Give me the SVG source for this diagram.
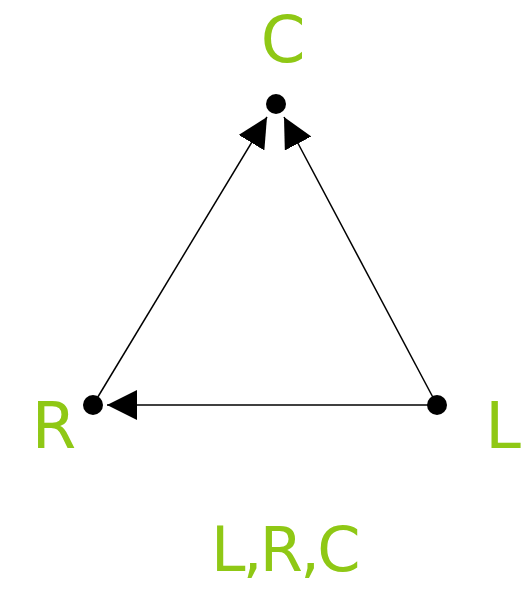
<svg xmlns="http://www.w3.org/2000/svg" width="525" height="597" viewBox="0 0 525 597">
<style>
.lbl{font-family:"DejaVu Sans",sans-serif;font-size:64px;fill:#8fc815;text-anchor:middle}
.dot{fill:#000}
.edge{stroke:#000;stroke-width:1.5;fill:none;marker-end:url(#ah)}
</style>
<defs>
<marker id="ah" markerUnits="userSpaceOnUse" markerWidth="30" markerHeight="30" viewBox="0 0 28 28" refX="28" refY="14" orient="auto">
<path d="M0,0 L28,14 L0,28 z" fill="#000"/>
</marker>
</defs>
<rect width="525" height="597" fill="#fff"/>
<g id="edges">
<line class="edge" x1="93" y1="405" x2="267" y2="117"/>
<line class="edge" x1="437" y1="405" x2="284" y2="117"/>
<line class="edge" x1="437" y1="405" x2="107" y2="405"/>
</g>
<g id="C"><circle class="dot" cx="276" cy="104" r="10"/><text class="lbl" x="283" y="62">C</text></g>
<g id="R"><circle class="dot" cx="93" cy="405" r="10"/><text class="lbl" x="54" y="448">R</text></g>
<g id="L"><circle class="dot" cx="437" cy="405" r="10"/><text class="lbl" x="503" y="448">L</text></g>
<text class="lbl" style="text-anchor:start;font-size:62px;letter-spacing:-2.7px" x="211" y="571">L,R,C</text>
</svg>
